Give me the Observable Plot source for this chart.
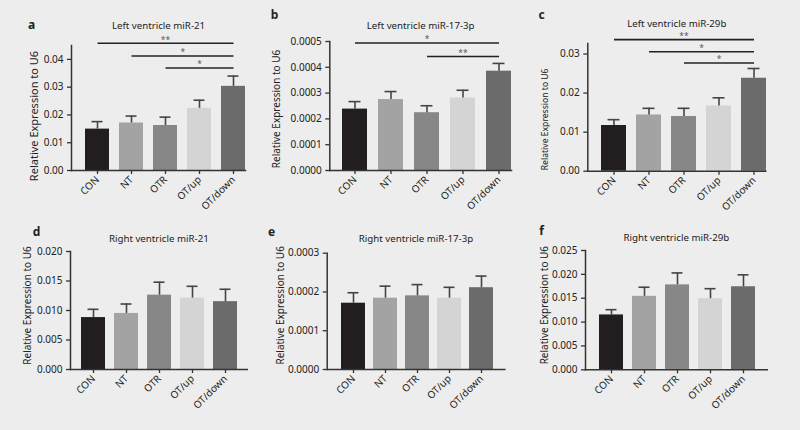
<!DOCTYPE html>
<html><head><meta charset="utf-8">
<script src="https://cdn.jsdelivr.net/npm/d3@7"></script>
<script src="https://cdn.jsdelivr.net/npm/@observablehq/plot@0.6"></script>
<style>
html,body{margin:0;padding:0;background:#ededed;}
#root{position:relative;width:800px;height:430px;overflow:hidden;background:#ededed;}
.panel{position:absolute;}
</style></head><body><div id="root"></div>
<script>
// ---- data ----
const groups = ["CON", "NT", "OTR", "OT/up", "OT/down"];
const barColors = ["#221e1f", "#a3a3a3", "#878787", "#d4d4d4", "#6b6b6b"];

const letters = ["a", "b", "c", "d", "e", "f"];
const titles = [
  "Left ventricle miR-21", "Left ventricle miR-17-3p", "Left ventricle miR-29b",
  "Right ventricle miR-21", "Right ventricle miR-17-3p", "Right ventricle miR-29b"
];
const yLabel = "Relative Expression to U6";

const meanA = [0.0149, 0.0171, 0.0162, 0.0224, 0.0303];
const upperA = [0.0176, 0.0196, 0.0192, 0.0253, 0.0340];
const meanB = [0.000238, 0.000275, 0.000224, 0.000281, 0.000385];
const upperB = [0.000267, 0.000306, 0.000251, 0.000311, 0.000415];
const meanC = [0.0117, 0.0144, 0.0140, 0.0167, 0.0238];
const upperC = [0.0132, 0.0161, 0.0161, 0.0188, 0.0263];
const meanD = [0.0088, 0.0095, 0.0126, 0.0121, 0.0115];
const upperD = [0.0102, 0.0111, 0.0148, 0.0141, 0.0136];
const meanE = [0.000171, 0.000184, 0.000190, 0.000184, 0.000211];
const upperE = [0.000198, 0.000215, 0.000219, 0.000212, 0.000241];
const meanF = [0.0115, 0.0154, 0.0178, 0.0149, 0.0174];
const upperF = [0.0126, 0.0173, 0.0203, 0.0170, 0.0199];

const ticksA = [0, 0.01, 0.02, 0.03, 0.04];
const ticksB = [0, 0.0001, 0.0002, 0.0003, 0.0004, 0.0005];
const ticksC = [0, 0.01, 0.02, 0.03];
const ticksD = [0, 0.005, 0.010, 0.015, 0.020];
const ticksE = [0, 0.0001, 0.0002, 0.0003];
const ticksF = [0, 0.005, 0.010, 0.015, 0.020, 0.025];

const sigA = [
  {from: "CON", to: "OT/down", y: 0.0458, label: "**"},
  {from: "NT", to: "OT/down", y: 0.0412, label: "*"},
  {from: "OTR", to: "OT/down", y: 0.0369, label: "*"}
];
const sigB = [
  {from: "CON", to: "OT/down", y: 0.000494, label: "*"},
  {from: "OTR", to: "OT/down", y: 0.000442, label: "**"}
];
const sigC = [
  {from: "CON", to: "OT/down", y: 0.0337, label: "**"},
  {from: "NT", to: "OT/down", y: 0.0306, label: "*"},
  {from: "OTR", to: "OT/down", y: 0.0277, label: "*"}
];

// ---- layout (styles / positions) ----
const panels = [
  {means: meanA, upper: upperA, ticks: ticksA, sig: sigA, fmt: ".2f", ymax: 0.045,
   left: 0, top: 0, width: 266, ml: 71, mr: 21, mt: 45, mb: 45, pi: 0.28, po: 0.15, align: 1,
   labDx: -37.5, labDy: 8, labSize: 11, titleDy: -20, letDx: -40, letDy: -20},
  {means: meanB, upper: upperB, ticks: ticksB, sig: sigB, fmt: ".4f", ymax: 0.0005,
   left: 265, top: 0, width: 266, ml: 64.3, mr: 20, mt: 41, mb: 45, pi: 0.295, po: 0.157, align: 1,
   labDx: -52.6, labDy: 3, labSize: 10, titleDy: -16, letDx: -55.3, letDy: -26},
  {means: meanC, upper: upperC, ticks: ticksC, sig: sigC, fmt: ".2f", ymax: 0.0327,
   left: 530, top: 0, width: 270, ml: 57.3, mr: 34.7, mt: 43, mb: 44.3, pi: 0.294, po: 0.161, align: 1,
   labDx: -43, labDy: 12, labSize: 8.6, titleDy: -19.5, letDx: -46.3, letDy: -28},
  {means: meanD, upper: upperD, ticks: ticksD, sig: [], fmt: ".3f", ymax: 0.020,
   left: 0, top: 215, width: 266, ml: 70, mr: 19.3, mt: 36, mb: 61, pi: 0.275, po: 0.307, align: 0.54,
   labDx: -43, labDy: -5, labSize: 10, titleDy: -12.7, letDx: -34, letDy: -19.3},
  {means: meanE, upper: upperE, ticks: ticksE, sig: [], fmt: ".4f", ymax: 0.0003,
   left: 265, top: 215, width: 266, ml: 61.7, mr: 26.7, mt: 37.7, mb: 61, pi: 0.264, po: 0.356, align: 0.53,
   labDx: -46.4, labDy: -6, labSize: 10, titleDy: -14.7, letDx: -55.7, letDy: -21},
  {means: meanF, upper: upperF, ticks: ticksF, sig: [], fmt: ".3f", ymax: 0.025,
   left: 530, top: 215, width: 270, ml: 55, mr: 33.3, mt: 35, mb: 60.7, pi: 0.286, po: 0.347, align: 0.54,
   labDx: -41, labDy: -5, labSize: 10, titleDy: -12.3, letDx: -44, letDy: -19}
];

const axisColor = "#333";
const root = document.getElementById("root");

panels.forEach((p, k) => {
  const H = 215;
  const rows = groups.map((g, i) => ({group: g, mean: p.means[i], upper: p.upper[i]}));
  const n = groups.length;
  const step = (p.width - p.ml - p.mr) / (n - p.pi + 2 * p.po);

  const starMarks = p.sig.map(s => {
    const i1 = groups.indexOf(s.from), i2 = groups.indexOf(s.to);
    const mid = (i1 + i2) / 2;
    const base = Math.floor(mid);
    return Plot.text([s], {x: () => groups[base], y: "y", text: "label",
      dx: (mid - base) * step, dy: -3.5, fontSize: 8.5, fill: "#555", lineAnchor: "middle"});
  });

  const chart = Plot.plot({
    width: p.width, height: H,
    marginLeft: p.ml, marginRight: p.mr, marginTop: p.mt, marginBottom: p.mb,
    style: {background: "transparent", fontFamily: "'Noto Sans', sans-serif", fontSize: "10px", color: "#222", overflow: "visible"},
    x: {domain: groups, paddingInner: p.pi, paddingOuter: p.po, align: p.align},
    y: {domain: [0, p.ymax]},
    color: {domain: groups, range: barColors},
    marks: [
      Plot.barY(rows, {x: "group", y: "mean", fill: "group"}),
      Plot.ruleX(rows, {x: "group", y1: "mean", y2: "upper", stroke: "#444", strokeWidth: 1.6}),
      Plot.tickY(rows, {x: "group", y: "upper", stroke: "#444", strokeWidth: 1.6, insetLeft: 6.5, insetRight: 6.5}),
      Plot.link(p.sig, {x1: "from", x2: "to", y1: "y", y2: "y", stroke: "#222", strokeWidth: 1.6}),
      ...starMarks,
      Plot.frame({anchor: "left", stroke: axisColor, strokeWidth: 1.5}),
      Plot.frame({anchor: "bottom", stroke: axisColor, strokeWidth: 1.5}),
      Plot.axisY({ticks: p.ticks, tickFormat: d3.format(p.fmt), tickSize: 4, tickPadding: 4, label: null, stroke: axisColor, strokeWidth: 1.3, fill: "#222"}),
      Plot.axisX({tickRotate: -45, tickSize: 4, tickPadding: 3.5, label: null, stroke: axisColor, strokeWidth: 1.3, fill: "#222", fontSize: 10}),
      Plot.text([yLabel], {frameAnchor: "left", rotate: -90, dx: p.labDx, dy: p.labDy, fontSize: p.labSize, fill: "#222", textAnchor: "middle", lineAnchor: "middle"}),
      Plot.text([titles[k]], {frameAnchor: "top", dy: p.titleDy, fontSize: 9.7, fill: "#222", textAnchor: "middle", lineAnchor: "middle"}),
      Plot.text([letters[k]], {frameAnchor: "top-left", dx: p.letDx, dy: p.letDy, fontSize: 12, fontWeight: "bold", fill: "#222", textAnchor: "middle", lineAnchor: "middle"})
    ]
  });
  const wrap = document.createElement("div");
  wrap.className = "panel";
  wrap.style.left = p.left + "px";
  wrap.style.top = p.top + "px";
  wrap.appendChild(chart);
  root.appendChild(wrap);
});
</script>
</body></html>
